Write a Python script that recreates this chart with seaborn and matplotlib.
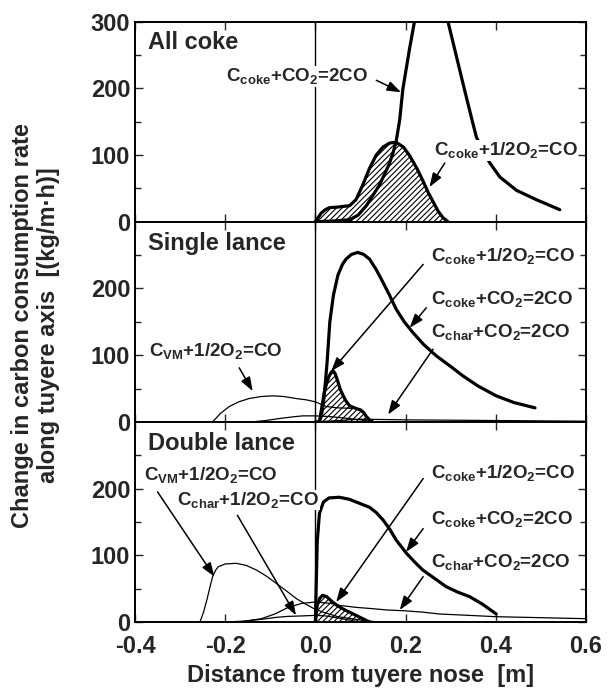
import matplotlib
matplotlib.use("Agg")
import matplotlib.pyplot as plt
import seaborn as sns
import numpy as np
import pandas as pd

# ---------------- data ----------------
# All coke
top_o2_x = [0.0, 0.007, 0.013, 0.022, 0.031, 0.05, 0.076, 0.09, 0.105, 0.12, 0.135, 0.15, 0.165, 0.179,
            0.195, 0.209, 0.225, 0.238, 0.25, 0.261, 0.272, 0.283, 0.294]
top_o2_y = [0, 7, 13, 18, 21, 22, 24, 33, 55, 80, 100, 112, 118, 119,
            112, 99, 80, 62, 44, 30, 16, 6, 0]
top_co2_x = [0.0, 0.04, 0.076, 0.095, 0.113, 0.128, 0.142, 0.154, 0.164, 0.172, 0.179, 0.187, 0.194, 0.209, 0.22,
             0.235, 0.25, 0.265, 0.28, 0.294, 0.313, 0.331, 0.349, 0.357, 0.372, 0.387, 0.409, 0.446, 0.49, 0.542]
top_co2_y = [0, 1, 3, 10, 24, 40, 55, 72, 87, 103, 120, 153, 199, 260, 301,
             360, 395, 380, 345, 300, 247, 197, 148, 127, 105, 88, 67, 47, 33, 18]

# Single lance
mid_co2_x = [0.0, 0.009, 0.014, 0.018, 0.022, 0.026, 0.032, 0.04, 0.05, 0.06, 0.068, 0.08, 0.094, 0.107, 0.12,
             0.135, 0.15, 0.165, 0.179, 0.197, 0.216, 0.24, 0.268, 0.3, 0.327, 0.36, 0.401, 0.44, 0.487]
mid_co2_y = [0, 0, 12, 30, 58, 90, 150, 190, 220, 236, 244, 251, 254, 251, 244,
             228, 209, 189, 169, 150, 134, 116, 99, 83, 69, 54, 39, 29, 21]
mid_o2_x = [0.009, 0.015, 0.02, 0.025, 0.03, 0.035, 0.039, 0.044, 0.05, 0.055, 0.061, 0.068, 0.076, 0.09, 0.1,
            0.107, 0.113, 0.12, 0.127]
mid_o2_y = [0, 25, 45, 58, 68, 74, 77, 72, 60, 49, 40, 31, 24, 20, 18, 14, 8, 3, 0]
mid_vm_x = [-0.228, -0.21, -0.191, -0.17, -0.147, -0.12, -0.095, -0.07, -0.043, -0.02, 0.0, 0.024, 0.05, 0.094,
            0.105, 0.113, 0.12, 0.127]
mid_vm_y = [0, 13, 23, 30, 35, 38, 39, 38, 35, 33, 30, 23, 21, 20, 15, 8, 3, 0]
mid_charo2_x = [-0.14, -0.11, -0.08, -0.05, -0.028, 0.0, 0.03, 0.06, 0.1, 0.13]
mid_charo2_y = [0, 2, 5, 7.5, 9, 9, 8, 6, 3, 0]
mid_charco2_x = [0.0, 0.05, 0.1, 0.15, 0.2, 0.3, 0.4, 0.5, 0.6]
mid_charco2_y = [0, 2, 4, 3.5, 3, 2.5, 2, 1.5, 1]

# Double lance
bot_co2_x = [0.0, 0.002, 0.004, 0.009, 0.018, 0.03, 0.053, 0.075, 0.09, 0.105, 0.12, 0.135, 0.15, 0.165, 0.179,
             0.202, 0.22, 0.238, 0.265, 0.29, 0.315, 0.342, 0.37, 0.401]
bot_co2_y = [0, 60, 120, 163, 180, 186, 187, 184, 180, 176, 172, 164, 153, 139, 123,
             103, 90, 78, 65, 53, 45, 38, 27, 12]
bot_o2_x = [0.0, 0.004, 0.01, 0.016, 0.025, 0.038, 0.05, 0.06, 0.075, 0.09, 0.105, 0.12]
bot_o2_y = [0, 25, 36, 40, 38, 30, 24, 20, 15, 10, 5, 0]
bot_vm_x = [-0.256, -0.248, -0.24, -0.234, -0.228, -0.221, -0.215, -0.2, -0.176, -0.154, -0.131, -0.109, -0.087,
            -0.065, -0.042, -0.022, -0.003, 0.016, 0.05, 0.1, 0.14]
bot_vm_y = [0, 15, 35, 52, 68, 78, 83, 87, 88, 85, 78, 69, 58, 47, 35, 27, 20, 15, 8, 3, 0]
bot_charco2_x = [-0.17, -0.12, -0.09, -0.06, -0.03, 0.0, 0.033, 0.053, 0.09, 0.127, 0.16, 0.194, 0.235, 0.276,
                 0.34, 0.4, 0.5, 0.6]
bot_charco2_y = [0, 5, 12, 22, 28, 30, 28, 25, 22, 20, 18, 17, 15, 12, 10, 8, 6.5, 5]
bot_charo2_x = [-0.2, -0.154, -0.12, -0.087, -0.06, -0.036, 0.0, 0.025, 0.05, 0.075, 0.1]
bot_charo2_y = [0, 1.5, 4, 7, 8.5, 9, 10, 9, 6, 3, 0]

panel_titles = ["All coke", "Single lance", "Double lance"]
x_ticks = [-0.4, -0.2, 0.0, 0.2, 0.4, 0.6]
x_ticklabels = ["-0.4", "-0.2", "0.0", "0.2", "0.4", "0.6"]
top_yticks = [0, 100, 200, 300]
other_yticks = [0, 100, 200]

# ---------------- style ----------------
sns.set_theme(style="ticks")
plt.rcParams["font.family"] = ["Liberation Sans", "DejaVu Sans"]
plt.rcParams["font.weight"] = "bold"
plt.rcParams["mathtext.fontset"] = "custom"
plt.rcParams["mathtext.rm"] = "Liberation Sans:bold"
plt.rcParams["mathtext.bf"] = "Liberation Sans:bold"
plt.rcParams["mathtext.it"] = "Liberation Sans:bold"
plt.rcParams["mathtext.default"] = "rm"
plt.rcParams["axes.unicode_minus"] = False
plt.rcParams["hatch.linewidth"] = 0.8

fig, axes = plt.subplots(3, 1, figsize=(6.11, 6.95), dpi=100, sharex=True)
fig.subplots_adjust(left=0.221, right=0.959, top=0.969, bottom=0.105, hspace=0)

THICK = 2.3
THIN = 0.9


def line(ax, x, y, lw):
    df = pd.DataFrame({"x": x, "y": y})
    sns.lineplot(data=df, x="x", y="y", ax=ax, color="black", lw=lw, estimator=None, sort=False,
                 solid_joinstyle="round", solid_capstyle="round")


def hatched(ax, x, y):
    ax.fill_between(x, 0, y, facecolor="white", hatch="//////", edgecolor="black", lw=0, zorder=2)


def label(ax, txt, xy, xytext, tx, ty):
    ax.text(tx, ty, txt, fontsize=13.5, fontweight="bold", ha="left", va="center", zorder=6,
            bbox=dict(facecolor="white", edgecolor="none", pad=0.3))
    ax.annotate("", xy=xy, xytext=xytext,
                arrowprops=dict(arrowstyle="-|>,head_length=0.7,head_width=0.25", color="black",
                                lw=1.1, shrinkA=0, shrinkB=0), zorder=5)


CO2_coke = r"C$_{\rm coke}$+CO$_{\rm 2}$=2CO"
O2_coke = r"C$_{\rm coke}$+1/2O$_{\rm 2}$=CO"
CO2_char = r"C$_{\rm char}$+CO$_{\rm 2}$=2CO"
O2_char = r"C$_{\rm char}$+1/2O$_{\rm 2}$=CO"
O2_vm = r"C$_{\rm VM}$+1/2O$_{\rm 2}$=CO"

# top
ax = axes[0]
hatched(ax, top_o2_x, top_o2_y)
line(ax, top_o2_x, top_o2_y, THICK)
line(ax, top_co2_x, top_co2_y, THICK)
label(ax, CO2_coke, (0.19, 194), (0.135, 212), -0.198, 218)
label(ax, O2_coke, (0.253, 52), (0.287, 88), 0.262, 107)

# middle
ax = axes[1]
hatched(ax, mid_o2_x, mid_o2_y)
line(ax, mid_vm_x, mid_vm_y, THIN)
line(ax, mid_charo2_x, mid_charo2_y, THIN)
line(ax, mid_charco2_x, mid_charco2_y, THIN)
line(ax, mid_o2_x, mid_o2_y, THICK)
line(ax, mid_co2_x, mid_co2_y, THICK)
label(ax, O2_coke, (0.035, 76), (0.239, 236), 0.257, 249)
label(ax, CO2_coke, (0.209, 141), (0.246, 171), 0.257, 184)
label(ax, CO2_char, (0.161, 11), (0.261, 109), 0.257, 134)
label(ax, O2_vm, (-0.139, 46), (-0.169, 81), -0.369, 106)

# bottom
ax = axes[2]
hatched(ax, bot_o2_x, bot_o2_y)
line(ax, bot_vm_x, bot_vm_y, THIN)
line(ax, bot_charco2_x, bot_charco2_y, THIN)
line(ax, bot_charo2_x, bot_charo2_y, THIN)
line(ax, bot_o2_x, bot_o2_y, THICK)
line(ax, bot_co2_x, bot_co2_y, THICK)
label(ax, O2_vm, (-0.224, 68), (-0.35, 195), -0.38, 220)
label(ax, O2_char, (-0.043, 10), (-0.173, 160), -0.306, 183)
label(ax, O2_coke, (0.046, 30), (0.239, 215), 0.257, 223)
label(ax, CO2_coke, (0.201, 105), (0.239, 140), 0.257, 155)
label(ax, CO2_char, (0.187, 18), (0.239, 68), 0.257, 90)

for i, ax in enumerate(axes):
    ax.set_xlim(-0.4, 0.6)
    ax.set_ylim(0, 300)
    ax.axvline(0, color="black", lw=1.0, zorder=1)
    ax.set_yticks(top_yticks if i == 0 else other_yticks)
    ax.set_yticks([50, 150, 250], minor=True)
    ax.set_xticks(x_ticks)
    ax.set_xticklabels(x_ticklabels)
    ax.tick_params(axis="both", which="both", direction="in", top=True, right=True,
                   labelsize=17, width=1.0)
    ax.tick_params(axis="x", which="major", pad=9)
    ax.tick_params(which="major", length=6)
    ax.tick_params(which="minor", length=4)
    ax.set_xlabel("")
    ax.set_ylabel("")
    for s in ax.spines.values():
        s.set_linewidth(1.4)
        s.set_color("black")
    for lab in ax.get_yticklabels() + ax.get_xticklabels():
        lab.set_fontweight("bold")
    ax.text(-0.371, 268, panel_titles[i], fontsize=17, fontweight="bold", ha="left", va="center")

axes[2].set_xlabel("Distance from tuyere nose  [m]", fontsize=17, fontweight="bold", labelpad=5)
fig.text(0.058, 0.532, "Change in carbon consumption rate\nalong tuyere axis  [(kg/m\u00b7h)]",
         rotation=90, ha="center", va="center", fontsize=17, fontweight="bold",
         multialignment="center", linespacing=1.15)

fig.savefig("out.png", dpi=100)
